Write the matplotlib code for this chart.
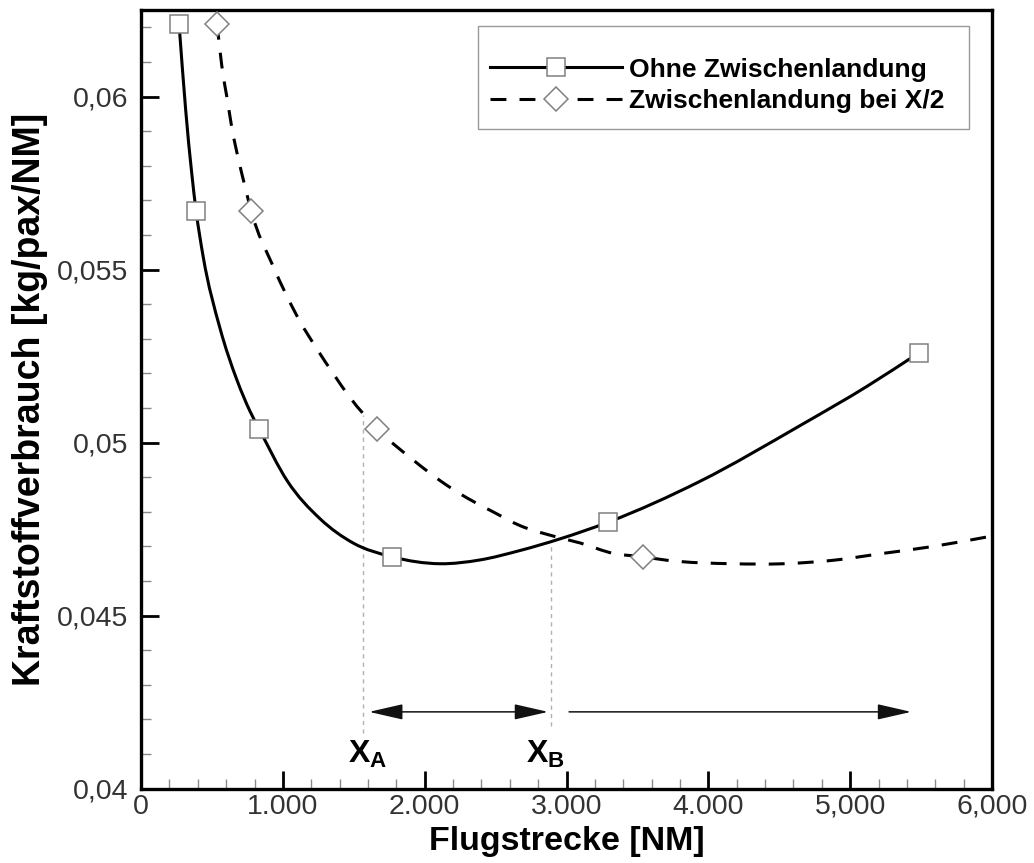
import numpy as np
import matplotlib
matplotlib.use("Agg")
import matplotlib.pyplot as plt
from matplotlib.lines import Line2D
from matplotlib.path import Path
from matplotlib.patches import PathPatch, Rectangle
from matplotlib.ticker import MultipleLocator, FixedLocator, FixedFormatter

plt.rcParams['font.family'] = ['Liberation Sans', 'DejaVu Sans']
plt.rcParams['mathtext.fontset'] = 'custom'
plt.rcParams['mathtext.rm'] = 'Liberation Sans'
plt.rcParams['mathtext.bf'] = 'Liberation Sans:bold'

# markers
ohne_x = [268, 388, 832, 1770, 3293, 5487]
ohne_y = [0.0621, 0.0567, 0.0504, 0.0467, 0.0477, 0.0526]
mit_x = [536, 776, 1664, 3540]
mit_y = [0.0621, 0.0567, 0.0504, 0.0467]

# curves
ohne_curve_x = [268, 315, 357, 388, 437, 557, 677, 769, 832, 1030, 1262, 1495,
                1770, 2110, 2390, 2670, 2955, 3293, 3940, 4650, 5120, 5487]
ohne_curve_y = [0.0621, 0.0596, 0.0578, 0.0567, 0.0554, 0.0533, 0.0518, 0.0509,
                0.0504, 0.0489, 0.0478, 0.0471, 0.0467, 0.0465, 0.04661, 0.04688,
                0.04722, 0.0477, 0.04888, 0.0505, 0.05163, 0.0526]
mit_curve_x = [536, 569, 609, 640, 686, 733, 776, 931, 1121, 1241, 1354, 1474,
               1664, 1918, 2109, 2299, 2482, 2673, 2906, 3096, 3329, 3540, 3709,
               4175, 4528, 4880, 5233, 5585, 6000]
mit_curve_y = [0.0621, 0.0609, 0.0599, 0.0591, 0.0582, 0.0574, 0.0567, 0.0551,
               0.0535, 0.0527, 0.0520, 0.0513, 0.0504, 0.0495, 0.0489, 0.0484,
               0.0480, 0.0476, 0.0473, 0.0471, 0.0468, 0.0467, 0.0466, 0.0465,
               0.0465, 0.0466, 0.0468, 0.0470, 0.0473]

x_ticks = [0, 1000, 2000, 3000, 4000, 5000, 6000]
x_tick_labels = ["0", "1.000", "2.000", "3.000", "4.000", "5,000", "6,000"]
y_ticks = [0.04, 0.045, 0.05, 0.055, 0.06]
y_tick_labels = ["0,04", "0,045", "0,05", "0,055", "0,06"]

labels = ["Ohne Zwischenlandung", "Zwischenlandung bei X/2"]

# X_A / X_B guides and the arrows
xa = 1564
xb = 2891
xa_top, xa_bottom = 0.0508, 0.0416
xb_top, xb_bottom = 0.0470, 0.0418
arrow_y = 0.04222
arrow1 = (1608, 2870)
arrow2 = (3018, 5430)
label_y = 0.04074


def smooth_path(xs, ys):
    # cubic bezier segments through the read points (hermite tangents)
    xs = np.asarray(xs, float)
    ys = np.asarray(ys, float)
    h = np.diff(xs)
    s = np.diff(ys) / h
    d = np.empty_like(xs)
    d[0] = s[0]
    d[-1] = s[-1]
    d[1:-1] = (h[:-1] * s[1:] + h[1:] * s[:-1]) / (h[:-1] + h[1:])
    verts = [(xs[0], ys[0])]
    codes = [Path.MOVETO]
    for i in range(len(h)):
        verts += [(xs[i] + h[i] / 3, ys[i] + d[i] * h[i] / 3),
                  (xs[i + 1] - h[i] / 3, ys[i + 1] - d[i + 1] * h[i] / 3),
                  (xs[i + 1], ys[i + 1])]
        codes += [Path.CURVE4] * 3
    return Path(verts, codes)


fig = plt.figure(figsize=(10.34, 8.63), dpi=100)
ax = fig.add_axes([0.1364, 0.0861, 0.823, 0.9023])

dash = (0, (5.2, 4.3))
mk = dict(ms=12.5, mfc='white', mec='#808080', mew=1.1, ls='none', zorder=4)

ax.add_patch(PathPatch(smooth_path(ohne_curve_x, ohne_curve_y), fill=False,
                       edgecolor='black', lw=2.2, zorder=3))
ax.add_patch(PathPatch(smooth_path(mit_curve_x, mit_curve_y), fill=False,
                       edgecolor='black', lw=2.2, ls=dash, zorder=3))
ax.plot(ohne_x, ohne_y, marker='s', **mk)
ax.plot(mit_x, mit_y, marker='D', **mk)

# dotted guides
ax.plot([xa, xa], [xa_bottom, xa_top], color='#b0b0b0', lw=1, ls=(0, (3, 3)), zorder=1)
ax.plot([xb, xb], [xb_bottom, xb_top], color='#b0b0b0', lw=1, ls=(0, (3, 3)), zorder=1)

ax.annotate('', xy=(arrow1[1], arrow_y), xytext=(arrow1[0], arrow_y),
            arrowprops=dict(arrowstyle='<|-|>,head_length=21,head_width=4.8',
                            mutation_scale=1, color='#111', lw=1.1,
                            shrinkA=0, shrinkB=0))
ax.annotate('', xy=(arrow2[1], arrow_y), xytext=(arrow2[0], arrow_y),
            arrowprops=dict(arrowstyle='-|>,head_length=21,head_width=4.8',
                            mutation_scale=1, color='#111', lw=1.1,
                            shrinkA=0, shrinkB=0))

ax.text(1601, label_y, r'$\mathbf{X}_\mathbf{A}$', fontsize=23, ha='center', va='baseline')
ax.text(2849, label_y, r'$\mathbf{X}_\mathbf{B}$', fontsize=23, ha='center', va='baseline')

ax.set_xlim(0, 6000)
ax.set_ylim(0.04, 0.0625)

ax.xaxis.set_major_locator(FixedLocator(x_ticks))
ax.xaxis.set_major_formatter(FixedFormatter(x_tick_labels))
ax.yaxis.set_major_locator(FixedLocator(y_ticks))
ax.yaxis.set_major_formatter(FixedFormatter(y_tick_labels))
ax.xaxis.set_minor_locator(MultipleLocator(200))
ax.yaxis.set_minor_locator(MultipleLocator(0.001))

ax.tick_params(which='major', direction='in', length=13, width=2, color='black',
               labelsize=20.5, labelcolor='#333333')
ax.tick_params(which='minor', direction='in', length=7.5, width=1, color='#8a8a8a')
ax.tick_params(axis='x', which='major', pad=3.5)
ax.tick_params(axis='y', which='major', pad=9)
for s in ax.spines.values():
    s.set_linewidth(2.4)

ax.set_xlabel("Flugstrecke [NM]", fontsize=24.5, fontweight='bold')
ax.set_ylabel("Kraftstoffverbrauch [kg/pax/NM]", fontsize=27, fontweight='bold')
ax.xaxis.set_label_coords(0.5, -0.0475)
ax.yaxis.set_label_coords(-0.109, 0.5)

# legend frame drawn separately so the padding can match
ax.add_patch(Rectangle((0.396, 0.8472), 0.577, 0.1323, transform=ax.transAxes,
                       facecolor='white', edgecolor='#999999', lw=1, zorder=5))
handles = [
    Line2D([], [], color='black', lw=2.2, marker='s', ms=12.5, mfc='white',
           mec='#808080', mew=1.1),
    Line2D([], [], color='black', lw=2.2, ls=dash, marker='D', ms=12.5,
           mfc='white', mec='#808080', mew=1.1),
]
leg = ax.legend(handles, labels, loc='upper left', bbox_to_anchor=(0.4101, 0.9390),
                borderaxespad=0, borderpad=0, handlelength=5.0, handletextpad=0.27,
                labelspacing=0.3, numpoints=1, frameon=False,
                prop={'size': 19, 'weight': 'bold'})
leg.set_zorder(6)

fig.savefig("out.png", dpi=100)
